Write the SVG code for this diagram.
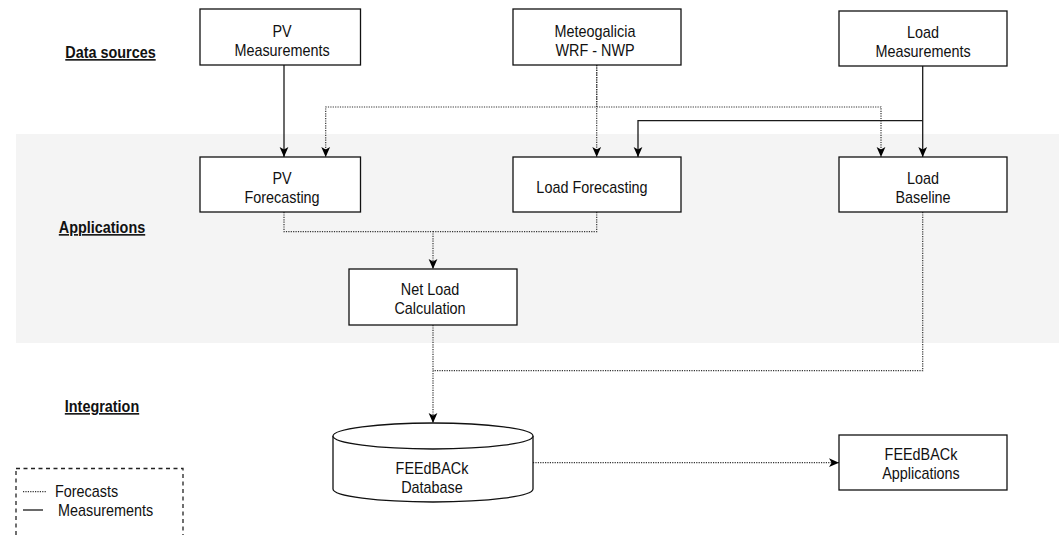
<svg xmlns="http://www.w3.org/2000/svg" width="1059" height="535" viewBox="0 0 1059 535">
  <style>
    .box { fill: #ffffff; stroke: #111111; stroke-width: 1.3; }
    .t { font-family: "Liberation Sans", Arial, Helvetica, sans-serif; font-size: 16px; fill: #111111; text-anchor: middle; }
    .lbl { font-family: "Liberation Sans", Arial, Helvetica, sans-serif; font-size: 16px; font-weight: bold; fill: #111111; text-anchor: middle; text-decoration: underline; }
    .lg { font-family: "Liberation Sans", Arial, Helvetica, sans-serif; font-size: 16px; fill: #111111; }
    .solid { fill: none; stroke: #1a1a1a; stroke-width: 1.3; }
    .dot { fill: none; stroke: #333333; stroke-width: 1.2; stroke-dasharray: 1.2 1.2; }
  </style>
  <defs>
    <marker id="arrow" viewBox="0 0 10 10" refX="10" refY="5" markerWidth="10" markerHeight="10" markerUnits="userSpaceOnUse" orient="auto">
      <path d="M0,0.6 L10,5 L0,9.4 L2.6,5 Z" fill="#000000"/>
    </marker>
  </defs>

  <!-- applications band -->
  <rect x="16" y="134" width="1043" height="209" fill="#f4f4f4"/>

  <!-- section labels -->
  <g id="section-labels">
    <text class="lbl" transform="translate(110.5,58) scale(0.9 1)">Data sources</text>
    <text class="lbl" transform="translate(102,233) scale(0.9 1)">Applications</text>
    <text class="lbl" transform="translate(102,412) scale(0.9 1)">Integration</text>
  </g>

  <!-- connectors -->
  <g id="connectors">
    <path class="solid" d="M284,65 V157" marker-end="url(#arrow)"/>
    <path class="dot" d="M596.7,65 V107 H325.7 V157" marker-end="url(#arrow)"/>
    <path class="dot" d="M596.7,65 V157" marker-end="url(#arrow)"/>
    <path class="dot" d="M596.7,107 H881 V157" marker-end="url(#arrow)"/>
    <path class="solid" d="M922.7,66 V157" marker-end="url(#arrow)"/>
    <path class="solid" d="M922.7,120.7 H638 V157" marker-end="url(#arrow)"/>
    <path class="dot" d="M284,212 V231.7 H433 V269" marker-end="url(#arrow)"/>
    <path class="dot" d="M596.7,212 V231.7 H433"/>
    <path class="dot" d="M433,325 V423" marker-end="url(#arrow)"/>
    <path class="dot" d="M922.7,212 V370.7 H433"/>
    <path class="dot" d="M533,462.7 H839" marker-end="url(#arrow)"/>
  </g>

  <!-- data sources -->
  <g id="pv-measurements">
    <rect class="box" x="200" y="9" width="160.5" height="56"/>
    <text class="t" transform="translate(282,36.5) scale(0.9 1)"><tspan x="0" y="0">PV</tspan><tspan x="0" y="19.5">Measurements</tspan></text>
  </g>
  <g id="meteogalicia">
    <rect class="box" x="513" y="9" width="168" height="56"/>
    <text class="t" transform="translate(595,36.5) scale(0.9 1)"><tspan x="0" y="0">Meteogalicia</tspan><tspan x="0" y="19.5">WRF - NWP</tspan></text>
  </g>
  <g id="load-measurements">
    <rect class="box" x="839" y="11" width="168" height="55"/>
    <text class="t" transform="translate(923,37.5) scale(0.9 1)"><tspan x="0" y="0">Load</tspan><tspan x="0" y="19.5">Measurements</tspan></text>
  </g>

  <!-- applications -->
  <g id="pv-forecasting">
    <rect class="box" x="200" y="157" width="160.5" height="55"/>
    <text class="t" transform="translate(282,183.5) scale(0.9 1)"><tspan x="0" y="0">PV</tspan><tspan x="0" y="19.5">Forecasting</tspan></text>
  </g>
  <g id="load-forecasting">
    <rect class="box" x="513" y="157" width="168" height="55"/>
    <text class="t" transform="translate(592,192.5) scale(0.9 1)">Load Forecasting</text>
  </g>
  <g id="load-baseline">
    <rect class="box" x="839" y="157" width="168" height="55"/>
    <text class="t" transform="translate(923,183.5) scale(0.9 1)"><tspan x="0" y="0">Load</tspan><tspan x="0" y="19.5">Baseline</tspan></text>
  </g>
  <g id="net-load-calculation">
    <rect class="box" x="349" y="269" width="168" height="56"/>
    <text class="t" transform="translate(430,295) scale(0.9 1)"><tspan x="0" y="0">Net Load</tspan><tspan x="0" y="19.5">Calculation</tspan></text>
  </g>

  <!-- integration -->
  <g id="feedback-database">
    <path class="box" d="M333,436 A100,13 0 0 1 533,436 V489 A100,13 0 0 1 333,489 Z"/>
    <path class="box" d="M333,436 A100,13 0 0 0 533,436" fill="none"/>
    <text class="t" transform="translate(432,474) scale(0.9 1)"><tspan x="0" y="0">FEEdBACk</tspan><tspan x="0" y="19">Database</tspan></text>
  </g>
  <g id="feedback-applications">
    <rect class="box" x="839" y="435" width="168" height="55"/>
    <text class="t" transform="translate(921,460) scale(0.9 1)"><tspan x="0" y="0">FEEdBACk</tspan><tspan x="0" y="19">Applications</tspan></text>
  </g>

  <!-- legend -->
  <g id="legend">
    <rect x="16" y="468.5" width="167" height="80" fill="none" stroke="#222222" stroke-width="1.3" stroke-dasharray="4 3.5"/>
    <path class="dot" d="M23,491.7 H47"/>
    <text class="lg" transform="translate(55,497) scale(0.9 1)">Forecasts</text>
    <path class="solid" d="M23,510 H43"/>
    <text class="lg" transform="translate(58,515.5) scale(0.9 1)">Measurements</text>
  </g>
</svg>
